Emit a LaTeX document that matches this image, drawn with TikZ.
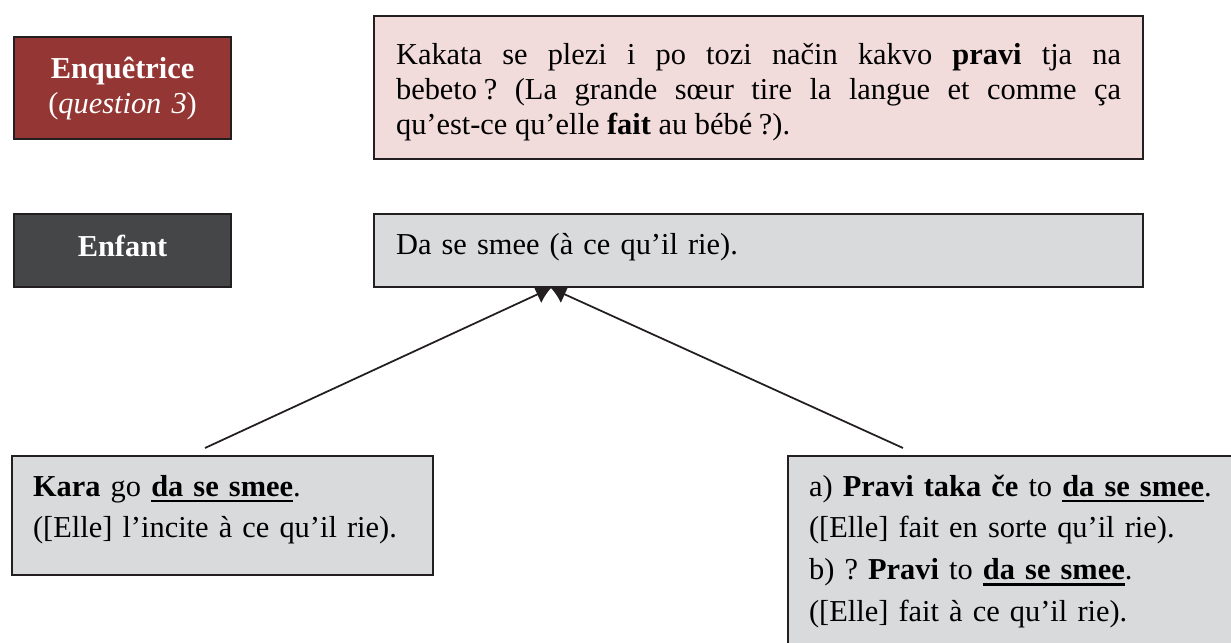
\documentclass[tikz,border=0pt]{standalone}
\usepackage{fontspec}
\setmainfont{Liberation Serif}
\usepackage{xcolor}
\usetikzlibrary{arrows.meta, calc}
\sloppy
\frenchspacing

\definecolor{enqred}{HTML}{943634}
\definecolor{enfgray}{HTML}{454648}
\definecolor{qpink}{HTML}{F2DBDB}
\definecolor{agray}{HTML}{D9DADB}
\definecolor{edge}{HTML}{231F20}

\newcommand{\boxfont}{\fontsize{17.3}{20}\selectfont}
\newcommand{\replyfont}{\fontsize{17.3}{23.7}\selectfont}
\newsavebox\ulbox
\newcommand{\thickul}[1]{\sbox\ulbox{#1}\rlap{\rule[-3.6pt]{\wd\ulbox}{1.4pt}}\usebox\ulbox}

\tikzset{
  box/.style={draw=edge, line width=1.2pt, rectangle, anchor=north west, inner ysep=0pt},
  role/.style={box, text=white, font=\boxfont\bfseries, inner xsep=0pt, text width=4.34cm, align=center},
  speech/.style={box, font=\boxfont, inner xsep=0.44cm, text width=14.5cm},
  reply/.style={box, fill=agray, font=\replyfont, inner xsep=0.42cm, align=left},
  link/.style={draw=edge, line width=1pt, -{Latex[length=0.3cm,width=0.38cm]}}
}

\begin{document}
\begin{tikzpicture}
\useasboundingbox (0,0) rectangle (24.62,-12.84);
\clip (0,0) rectangle (24.62,-12.84);

% speakers
\node[role, fill=enqred, text height=0.82cm, text depth=1.22cm] (enq) at (0.26,-0.72)
  {Enquêtrice\\\mdseries(\textit{question 3})};
\node[role, fill=enfgray, text height=0.84cm, text depth=0.62cm] (enf) at (0.26,-4.26) {Enfant};

% turns
\node[speech, fill=qpink, align=justify, text height=0.96cm, text depth=1.9cm] (question) at (7.46,-0.30)
  {Kakata se plezi i po tozi način kakvo \textbf{pravi} tja na\linebreak
   bebeto\hspace{0.22em}? (La grande sœur tire la langue et comme ça\linebreak
   qu’est-ce qu’elle \textbf{fait} au bébé\hspace{0.22em}?).};
\node[speech, fill=agray, align=left, text height=0.8cm, text depth=0.66cm] (answer) at (7.46,-4.26)
  {Da se smee (à ce qu’il rie).};

% glosses
\node[reply, text width=7.58cm, text height=0.8cm, text depth=1.58cm] (kara) at (0.22,-9.10)
  {\textbf{Kara} go \thickul{\textbf{da se smee}}.\\
   ([Elle] l’incite à ce qu’il rie).};
\node[reply, text width=8.56cm, text height=0.8cm, text depth=4.2cm] (pravi) at (15.74,-9.10)
  {a) \textbf{Pravi taka če} to \thickul{\textbf{da se smee}}.\\
   ([Elle] fait en sorte qu’il rie).\\
   b) ? \textbf{Pravi} to \thickul{\textbf{da se smee}}.\\
   ([Elle] fait à ce qu’il rie).};

\coordinate (smeetip) at ($(answer.south west)+(3.56,0)$);
\coordinate (karatop) at (4.10,-8.96);
\coordinate (pravitop) at (18.06,-8.96);
\draw[link] (karatop) -- (smeetip);
\draw[link] (pravitop) -- (smeetip);
\end{tikzpicture}
\end{document}
